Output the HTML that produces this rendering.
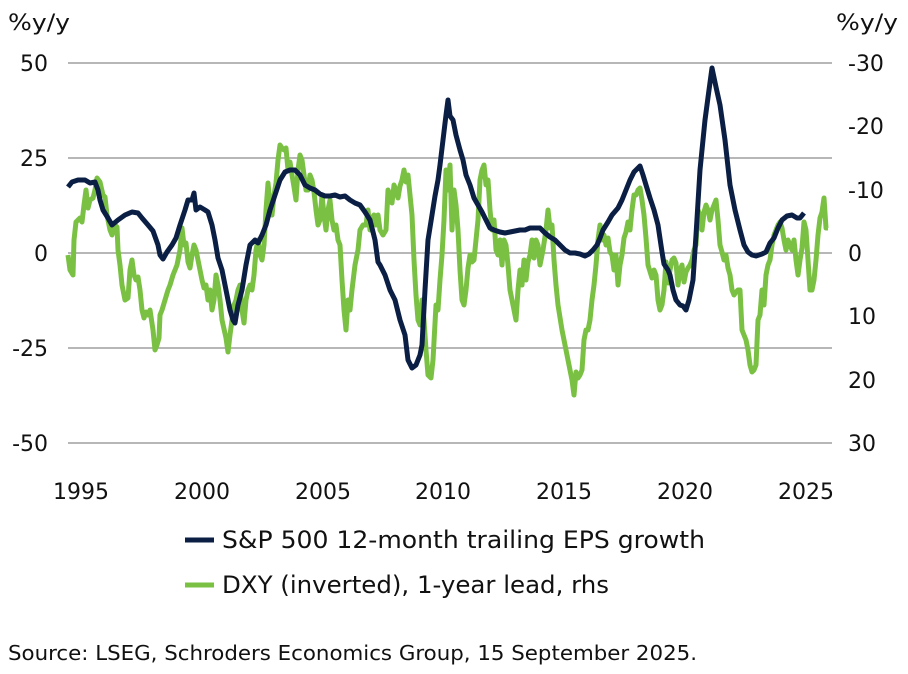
<!DOCTYPE html>
<html><head><meta charset="utf-8"><style>
body{margin:0;background:#fff;width:908px;height:674px;overflow:hidden}
svg{display:block;font-family:"DejaVu Sans","Liberation Sans",sans-serif}
</style></head><body>
<svg width="908" height="674" viewBox="0 0 908 674">
<g stroke="#8c8c8c" stroke-width="1.2">
<line x1="68" y1="63" x2="832" y2="63"/><line x1="68" y1="158" x2="832" y2="158"/>
<line x1="68" y1="253" x2="832" y2="253"/><line x1="68" y1="348" x2="832" y2="348"/>
<line x1="68" y1="443" x2="832" y2="443"/></g>
<g font-size="22" fill="#111">
<text x="8" y="30" textLength="62" lengthAdjust="spacingAndGlyphs">%y/y</text><text x="836" y="30" textLength="62" lengthAdjust="spacingAndGlyphs">%y/y</text>
<g text-anchor="end"><text x="48" y="71">50</text><text x="48" y="166">25</text><text x="48" y="261">0</text><text x="48" y="356">-25</text><text x="48" y="451">-50</text></g>
<g><text x="848" y="71">-30</text><text x="848" y="134">-20</text><text x="848" y="198">-10</text><text x="848" y="261">0</text><text x="848" y="324">10</text><text x="848" y="388">20</text><text x="848" y="451">30</text></g>
<g text-anchor="middle"><text x="81" y="499">1995</text><text x="202" y="499">2000</text><text x="323" y="499">2005</text><text x="443" y="499">2010</text><text x="564" y="499">2015</text><text x="685" y="499">2020</text><text x="806" y="499">2025</text></g>
</g>
<polyline fill="none" stroke="#7ac143" stroke-width="5" stroke-linejoin="round" points="68,255 70,270 73,275 74,240 76,222 80,218 82,222 84,205 86,190 88,208 90,200 93,198 95,190 97,178 100,182 103,195 105,197 107,215 110,230 112,235 115,225 117,227 118,250 120,265 122,285 125,300 128,298 130,270 132,260 134,275 136,280 138,277 140,290 142,310 144,318 146,312 148,315 150,310 153,330 155,350 157,345 159,338 160,315 162,310 165,300 168,290 170,285 173,275 175,270 177,265 180,250 182,228 184,245 186,243 188,262 190,268 192,255 194,245 196,250 198,260 200,270 202,280 204,288 206,285 208,300 210,290 212,310 214,300 216,275 218,285 220,300 222,320 226,338 228,352 230,335 232,320 234,305 236,300 238,290 240,285 242,310 244,323 246,300 248,290 250,285 252,290 254,275 256,250 258,240 260,255 262,260 264,245 266,210 268,183 270,205 272,215 274,195 276,183 278,160 280,145 282,148 284,150 286,148 288,170 290,162 292,175 294,187 296,200 298,170 300,155 302,160 304,175 306,190 308,190 310,175 312,180 314,192 316,210 318,225 320,220 322,195 324,215 326,230 328,210 330,200 332,220 334,230 336,225 338,240 340,245 342,280 344,310 346,330 348,300 350,310 352,290 355,265 358,250 360,230 363,225 366,225 368,210 370,230 372,218 374,215 376,225 378,215 380,230 383,235 386,230 388,190 390,195 392,203 394,185 396,190 398,198 400,186 402,180 404,170 406,182 408,175 410,195 412,215 414,260 416,295 418,320 420,325 422,300 424,320 426,350 428,375 431,378 433,360 436,305 438,310 440,280 442,255 444,220 446,170 448,190 450,165 452,230 454,190 456,205 458,230 460,270 462,300 464,305 466,290 468,268 470,255 472,262 474,260 476,240 478,220 480,180 482,170 484,165 486,185 488,180 490,210 492,230 494,220 496,250 498,255 500,240 502,265 504,240 506,245 508,265 510,290 512,300 514,310 516,320 518,290 520,270 522,285 524,260 526,280 528,262 530,255 532,240 534,258 536,240 538,245 540,265 543,250 546,230 548,210 550,228 552,225 554,260 556,285 558,305 562,330 566,350 570,370 572,380 574,395 576,372 578,378 580,375 582,370 584,340 586,330 588,330 590,320 592,300 594,285 596,265 598,240 600,225 602,240 604,235 606,245 608,238 610,252 612,255 614,270 616,255 618,285 620,265 622,255 624,238 626,232 628,222 630,230 632,210 634,195 636,195 638,190 640,188 642,200 644,215 646,238 648,265 652,278 654,270 656,275 658,300 660,310 662,305 664,290 666,262 668,283 670,270 672,260 674,258 676,263 678,285 680,270 682,265 684,282 686,272 688,268 690,265 692,260 694,250 696,245 698,210 700,215 702,230 704,212 706,205 708,210 710,220 712,210 714,205 716,200 718,220 720,245 722,252 724,260 726,255 728,268 730,275 732,290 734,295 736,292 738,290 740,290 742,330 744,335 746,340 748,350 750,365 752,372 754,370 756,365 758,320 760,315 762,290 764,305 766,275 768,265 770,260 772,245 774,235 776,230 778,225 780,222 782,228 784,240 786,250 788,240 790,245 792,250 794,240 796,260 798,275 800,260 802,248 804,222 806,230 808,260 810,290 812,290 814,280 816,260 818,235 820,218 822,212 824,198 826,228 828,228"/>
<polyline fill="none" stroke="#0b1f45" stroke-width="5" stroke-linejoin="round" points="68,187 72,182 78,180 85,180 90,183 95,182 98,190 100,200 103,210 108,218 112,225 118,220 125,215 132,212 138,213 142,218 148,225 153,231 158,245 160,255 163,259 167,252 172,245 176,238 180,225 185,210 188,200 192,200 194,193 196,210 200,207 205,210 208,212 212,225 215,240 218,258 222,270 226,290 230,310 233,320 235,323 238,305 242,290 246,265 250,245 255,240 258,243 262,235 266,225 270,210 275,195 280,180 285,172 290,170 295,170 300,175 305,185 310,188 315,190 320,194 325,196 330,196 335,195 340,197 345,196 350,200 355,203 360,205 365,212 370,220 375,240 378,262 380,265 385,275 390,290 395,300 400,320 405,335 408,360 412,368 416,365 418,360 420,355 422,345 425,290 428,240 432,215 435,196 438,180 440,165 443,140 446,115 448,100 450,116 453,120 456,135 460,150 463,160 466,175 470,185 474,198 478,205 482,212 486,220 490,228 494,230 500,232 505,233 510,232 515,231 520,230 525,230 530,228 535,228 540,228 545,233 550,237 555,240 560,245 565,250 570,253 575,253 580,254 585,256 589,254 593,250 597,245 600,238 603,230 608,222 612,215 618,208 622,200 626,190 630,180 634,172 638,168 640,166 643,175 646,185 650,198 654,210 658,225 662,252 664,264 668,270 670,275 673,290 676,300 680,305 683,306 686,310 689,300 693,280 696,235 700,170 705,120 709,90 712,68 716,87 720,105 725,140 730,185 735,210 740,230 744,245 748,252 752,255 756,256 762,254 766,252 770,243 774,238 778,228 782,220 787,216 792,215 797,218 800,218 804,213"/>
<line x1="185" y1="540" x2="214" y2="540" stroke="#0b1f45" stroke-width="5"/>
<line x1="185" y1="585" x2="214" y2="585" stroke="#7ac143" stroke-width="5"/>
<g font-size="24" fill="#111"><text x="222" y="548" textLength="483" lengthAdjust="spacingAndGlyphs">S&amp;P 500 12-month trailing EPS growth</text><text x="222" y="593" textLength="387" lengthAdjust="spacingAndGlyphs">DXY (inverted), 1-year lead, rhs</text></g>
<text x="8" y="660" font-size="20" fill="#111" textLength="689" lengthAdjust="spacingAndGlyphs">Source: LSEG, Schroders Economics Group, 15 September 2025.</text>
</svg>
</body></html>
